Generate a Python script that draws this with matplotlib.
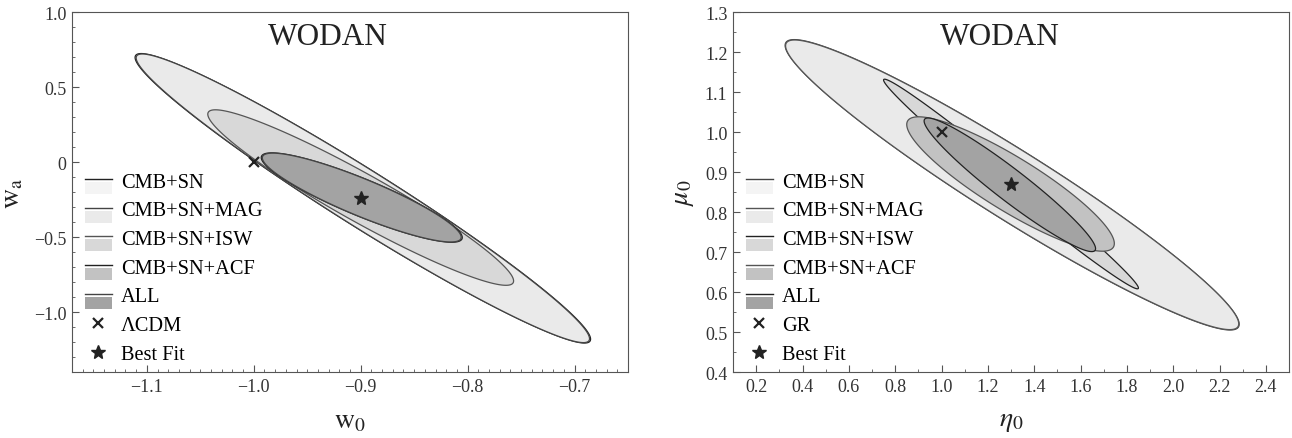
import numpy as np
import matplotlib
matplotlib.use("Agg")
import matplotlib.pyplot as plt
from matplotlib.patches import Rectangle
from matplotlib.lines import Line2D
from matplotlib.ticker import MultipleLocator, FuncFormatter, FormatStrFormatter

plt.rcParams['font.family'] = ['Liberation Serif', 'DejaVu Serif']
plt.rcParams['mathtext.fontset'] = 'stix'

# probe combinations, drawn from largest to smallest
labels = ["CMB+SN", "CMB+SN+MAG", "CMB+SN+ISW", "CMB+SN+ACF", "ALL"]
fills = ["#f4f4f4", "#eaeaea", "#d8d8d8", "#c2c2c2", "#a3a3a3"]
edges_left = ["#222222", "#444444", "#555555", "#222222", "#444444"]
edges_right = ["#444444", "#555555", "#222222", "#555555", "#222222"]

# left panel: (w0, wa) contours -> centre, sigma_x, sigma_y, correlation
w0_centre = [-0.898, -0.898, -0.900, -0.899, -0.899]
wa_centre = [-0.242, -0.242, -0.237, -0.237, -0.237]
w0_sigma = [0.213, 0.212, 0.143, 0.094, 0.093]
wa_sigma = [0.965, 0.962, 0.585, 0.298, 0.296]
w_rho = [-0.973, -0.973, -0.95, -0.894, -0.894]
lcdm = (-1.0, 0.0)
w_best = (-0.90, -0.24)

# right panel: (eta0, mu0) contours
eta_centre = [1.305, 1.305, 1.300, 1.298, 1.295]
mu_centre = [0.868, 0.868, 0.870, 0.870, 0.868]
eta_sigma = [0.980, 0.978, 0.550, 0.448, 0.370]
mu_sigma = [0.363, 0.362, 0.262, 0.168, 0.167]
em_rho = [-0.96, -0.96, -0.992, -0.885, -0.955]
gr = (1.0, 1.0)
em_best = (1.30, 0.87)


def ellipse(cx, cy, sx, sy, rho, n=400):
    t = np.linspace(0, 2 * np.pi, n)
    x = cx + sx * np.cos(t)
    y = cy + sy * (rho * np.cos(t) + np.sqrt(1 - rho ** 2) * np.sin(t))
    return x, y


class LineBoxHandler:
    """legend key: thin line with a filled box just under it"""
    def __init__(self, fill, edge):
        self.fill = fill
        self.edge = edge

    def legend_artist(self, legend, orig_handle, fontsize, handlebox):
        x0, y0 = -handlebox.xdescent, -handlebox.ydescent
        w, h = handlebox.width, handlebox.height
        yc = y0 + h / 2
        tr = handlebox.get_transform()
        box = Rectangle((x0, yc - 0.72 * fontsize), w, 0.6 * fontsize,
                        facecolor=self.fill, edgecolor='none', transform=tr)
        line = Line2D([x0, x0 + w], [yc + 0.02 * fontsize] * 2, color=self.edge,
                      lw=1.0, transform=tr)
        handlebox.add_artist(box)
        handlebox.add_artist(line)
        return box


def draw_panel(ax, cxs, cys, sxs, sys_, rhos, edges, cross, best, cross_label, title_x):
    handles = []
    handler_map = {}
    for i in range(len(labels)):
        x, y = ellipse(cxs[i], cys[i], sxs[i], sys_[i], rhos[i])
        ax.fill(x, y, facecolor=fills[i], edgecolor=edges[i], lw=0.9, zorder=2 + i)
        h = Rectangle((0, 0), 1, 1, label=labels[i])
        handles.append(h)
        handler_map[h] = LineBoxHandler(fills[i], edges[i])
    cx_ = ax.plot(cross[0], cross[1], marker='x', color='#222222', ms=7, mew=1.6,
                  ls='none', zorder=10, label=cross_label)[0]
    bf = ax.plot(best[0], best[1], marker='*', color='#222222', ms=10,
                 ls='none', zorder=10, label='Best Fit')[0]
    handles += [cx_, bf]
    ax.legend(handles=handles, handler_map=handler_map, loc='center left',
              bbox_to_anchor=(0.0234, 0.289), frameon=False, fontsize=14.7,
              handlelength=1.3, handleheight=0.7, labelspacing=0.46,
              handletextpad=0.45, borderpad=0.0, borderaxespad=0.0)
    ax.text(title_x, 0.932, "WODAN", transform=ax.transAxes, ha='center', va='center',
            fontsize=22.5, color='#222222')
    for s in ax.spines.values():
        s.set_color('#555555')
    ax.tick_params(which='both', direction='in', top=False, right=False,
                   labelsize=13, colors='#555555', labelcolor='#333333', pad=4)
    ax.tick_params(which='major', length=5)
    ax.tick_params(which='minor', length=2.5)


fig = plt.figure(figsize=(12.92, 4.39), dpi=100)
ax1 = fig.add_axes([72 / 1292, 1 - 373 / 439, 556 / 1292, 360 / 439])
ax2 = fig.add_axes([733 / 1292, 1 - 373 / 439, 556 / 1292, 360 / 439])

draw_panel(ax1, w0_centre, wa_centre, w0_sigma, wa_sigma, w_rho, edges_left,
           lcdm, w_best, "ΛCDM", 0.46)
ax1.set_xlim(-1.17, -0.65)
ax1.set_ylim(-1.4, 1.0)
ax1.xaxis.set_major_locator(MultipleLocator(0.1))
ax1.xaxis.set_minor_locator(MultipleLocator(0.01))
ax1.yaxis.set_major_locator(MultipleLocator(0.5))
ax1.yaxis.set_minor_locator(MultipleLocator(0.1))
ax1.xaxis.set_major_formatter(FuncFormatter(
    lambda v, p: f"{v:.1f}".replace('-', '\u2212')))
ax1.yaxis.set_major_formatter(FuncFormatter(
    lambda v, p: "0" if abs(v) < 1e-9 else f"{v:.1f}".replace('-', '\u2212')))
ax1.set_xlabel(r"$\mathrm{w}_0$", fontsize=20, color='#222222', labelpad=10)
ax1.set_ylabel(r"$\mathrm{w}_\mathrm{a}$", fontsize=20, color='#222222', labelpad=6)

draw_panel(ax2, eta_centre, mu_centre, eta_sigma, mu_sigma, em_rho, edges_right,
           gr, em_best, "GR", 0.48)
ax2.set_xlim(0.1, 2.5)
ax2.set_ylim(0.4, 1.3)
ax2.xaxis.set_major_locator(MultipleLocator(0.2))
ax2.xaxis.set_minor_locator(MultipleLocator(0.1))
ax2.yaxis.set_major_locator(MultipleLocator(0.1))
ax2.yaxis.set_minor_locator(MultipleLocator(0.05))
ax2.xaxis.set_major_formatter(FormatStrFormatter("%.1f"))
ax2.yaxis.set_major_formatter(FormatStrFormatter("%.1f"))
ax2.set_xlabel(r"$\eta_0$", fontsize=20, color='#222222', labelpad=10)
ax2.set_ylabel(r"$\mu_0$", fontsize=20, color='#222222', labelpad=6)

fig.savefig("out.png", dpi=100)
